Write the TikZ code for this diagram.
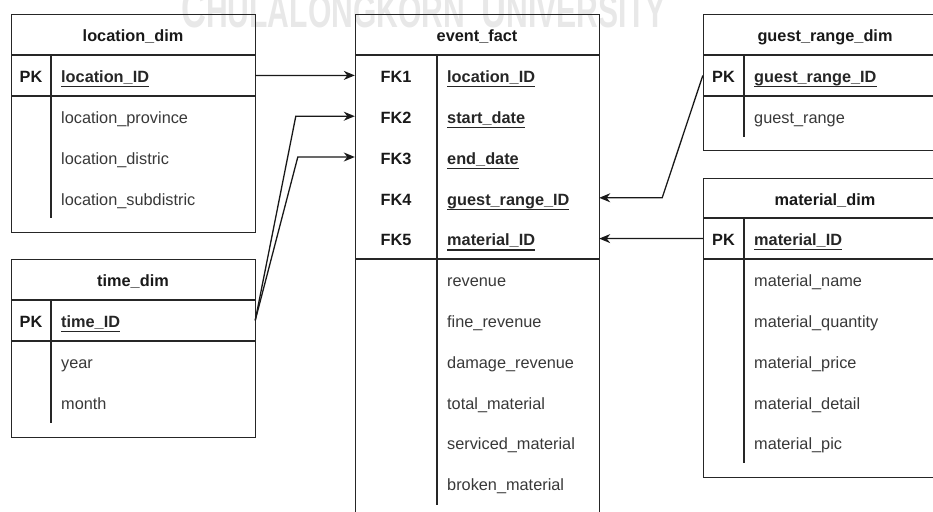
\documentclass[tikz,border=0pt]{standalone}
\usepackage{fontspec}
\usepackage{graphicx}
\setmainfont{Liberation Sans}
\usetikzlibrary{arrows.meta}
\newcommand\fldu[1]{\setbox0\hbox{#1}\rlap{\rule[-4.6pt]{\wd0}{1.2pt}}\box0}
\begin{document}
\begin{tikzpicture}[x=1pt,y=-1pt,
  frame/.style={draw=black!85, line width=1.3pt, anchor=north west, inner sep=0pt},
  sep/.style={draw=black!85, line width=1.3pt},
  hdr/.style={font=\fontsize{16.3}{19}\selectfont\bfseries, text=black!90, text height=11.7pt, text depth=0pt, inner sep=0pt, anchor=center},
  keyl/.style={font=\fontsize{16.3}{19}\selectfont\bfseries, text=black!90, text height=11.7pt, text depth=0pt, inner sep=0pt, anchor=center},
  pkf/.style={font=\fontsize{16.3}{19}\selectfont\bfseries, text=black!85, text height=11.7pt, text depth=0pt, inner sep=0pt, anchor=west},
  fld/.style={font=\fontsize{16.3}{19}\selectfont, text=black!78, text height=11.7pt, text depth=0pt, inner sep=0pt, anchor=west},
  rowbox/.style={minimum width=244pt, minimum height=40.8pt, inner sep=0pt},
  conn/.style={draw=black!90, line width=1.3pt, -{Stealth[length=11pt,width=9pt,inset=3.5pt]}}
]
\useasboundingbox (0,0) rectangle (933,511);
\clip (0,0) rectangle (933,511);

% watermark
\node[anchor=base west, text=black!9, inner sep=0pt, font=\bfseries] (wm) at (181,28)
  {\scalebox{0.64}[1]{{\fontsize{54}{54}\selectfont C}{\fontsize{47}{47}\selectfont HULALONGKORN}\hspace{26pt}{\fontsize{54}{54}\selectfont U}{\fontsize{47}{47}\selectfont NIVERSITY}}};

% ---------- location_dim ----------
\node[frame, minimum width=244pt, minimum height=218pt] (locdim) at (11,14) {};
\draw[sep] (11,55) -- (255,55);
\draw[sep] (11,96) -- (255,96);
\draw[sep] (51,55) -- (51,218);
\node[rowbox] (locpk) at (133,75.5) {};
\node[hdr] (lochdr) at (133,36) {location\_dim};
\node[keyl] (lockey) at (31,77) {PK};
\node[pkf] (locid) at (61,77) {\fldu{location\_ID}};
\node[fld] (locprov) at (61,118) {location\_province};
\node[fld] (locdist) at (61,158.7) {location\_distric};
\node[fld] (locsub) at (61,199.5) {location\_subdistric};

% ---------- time_dim ----------
\node[frame, minimum width=244pt, minimum height=178pt] (timedim) at (11,259) {};
\draw[sep] (11,300) -- (255,300);
\draw[sep] (11,341) -- (255,341);
\draw[sep] (51,300) -- (51,423);
\node[rowbox] (timepk) at (133,320.5) {};
\node[hdr] (timehdr) at (133,281) {time\_dim};
\node[keyl] (timekey) at (31,322) {PK};
\node[pkf] (timeid) at (61,322) {\fldu{time\_ID}};
\node[fld] (timeyear) at (61,363) {year};
\node[fld] (timemonth) at (61,403.7) {month};

% ---------- event_fact ----------
\node[frame, minimum width=244pt, minimum height=530pt] (evfact) at (355,14) {};
\draw[sep] (355,55) -- (599,55);
\draw[sep] (355,259) -- (599,259);
\draw[sep] (437,55) -- (437,505);
\node[hdr] (evhdr) at (477,36) {event\_fact};
\node[rowbox] (fk1) at (477,75.4) {};
\node[rowbox] (fk2) at (477,116.2) {};
\node[rowbox] (fk3) at (477,157) {};
\node[rowbox] (fk4) at (477,197.8) {};
\node[rowbox] (fk5) at (477,238.6) {};
\node[keyl] (fk1k) at (396,77) {FK1};
\node[keyl] (fk2k) at (396,117.7) {FK2};
\node[keyl] (fk3k) at (396,158.5) {FK3};
\node[keyl] (fk4k) at (396,199.3) {FK4};
\node[keyl] (fk5k) at (396,240.1) {FK5};
\node[pkf] (fk1f) at (447,77) {\fldu{location\_ID}};
\node[pkf] (fk2f) at (447,117.7) {\fldu{start\_date}};
\node[pkf] (fk3f) at (447,158.5) {\fldu{end\_date}};
\node[pkf] (fk4f) at (447,199.3) {\fldu{guest\_range\_ID}};
\node[pkf] (fk5f) at (447,240.1) {\fldu{material\_ID}};
\node[fld] (evrev) at (447,280.9) {revenue};
\node[fld] (evfine) at (447,321.7) {fine\_revenue};
\node[fld] (evdmg) at (447,362.5) {damage\_revenue};
\node[fld] (evtot) at (447,403.3) {total\_material};
\node[fld] (evserv) at (447,444.1) {serviced\_material};
\node[fld] (evbrok) at (447,484.9) {broken\_material};

% ---------- guest_range_dim ----------
\node[frame, minimum width=244pt, minimum height=136pt] (guestdim) at (703,14) {};
\draw[sep] (703,55) -- (947,55);
\draw[sep] (703,96) -- (947,96);
\draw[sep] (744,55) -- (744,137);
\node[rowbox] (guestpk) at (825,75.5) {};
\node[hdr] (guesthdr) at (825,36) {guest\_range\_dim};
\node[keyl] (guestkey) at (723.5,77) {PK};
\node[pkf] (guestid) at (754,77) {\fldu{guest\_range\_ID}};
\node[fld] (guestrange) at (754,118) {guest\_range};

% ---------- material_dim ----------
\node[frame, minimum width=244pt, minimum height=299pt] (matdim) at (703,178) {};
\draw[sep] (703,218) -- (947,218);
\draw[sep] (703,259) -- (947,259);
\draw[sep] (744,218) -- (744,463);
\node[rowbox] (matpk) at (825,238.5) {};
\node[hdr] (mathdr) at (825,199.5) {material\_dim};
\node[keyl] (matkey) at (723.5,240) {PK};
\node[pkf] (matid) at (754,240) {\fldu{material\_ID}};
\node[fld] (matname) at (754,280.9) {material\_name};
\node[fld] (matqty) at (754,321.7) {material\_quantity};
\node[fld] (matprice) at (754,362.5) {material\_price};
\node[fld] (matdet) at (754,403.3) {material\_detail};
\node[fld] (matpic) at (754,444.1) {material\_pic};

% ---------- connectors ----------
\draw[conn] (locpk.east) -- (fk1.west);
\draw[conn] (timepk.east) -- ([xshift=-59pt]fk2.west) -- (fk2.west);
\draw[conn] (timepk.east) -- ([xshift=-57pt]fk3.west) -- (fk3.west);
\draw[conn] (guestpk.west) -- ([xshift=63pt]fk4.east) -- (fk4.east);
\draw[conn] (matpk.west) -- (fk5.east);
\end{tikzpicture}
\end{document}
